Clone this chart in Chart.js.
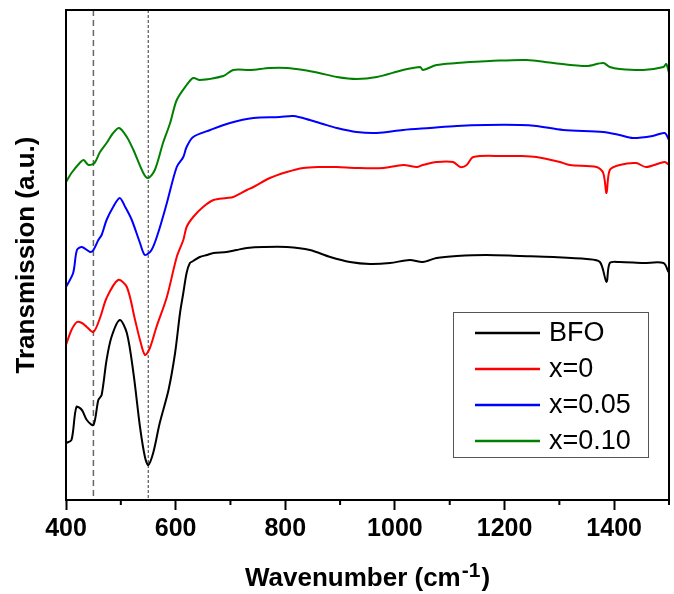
<!DOCTYPE html>
<html>
<head>
<meta charset="utf-8">
<script src="https://cdn.jsdelivr.net/npm/chart.js@4.4.0/dist/chart.umd.min.js"></script>
<style>
  html, body { margin: 0; padding: 0; background: #fff; }
  #wrap { width: 674px; height: 594px; }
</style>
</head>
<body>
<div id="wrap"><canvas id="ftirChart"></canvas></div>
<script>
// Wavenumber (cm-1) / transmission (a.u., offset curves)
const bfoX = [400, 410, 419, 429, 438, 450, 459, 465, 474, 483, 498, 511, 523, 535, 544, 550, 559, 571, 587, 599, 608, 614, 620, 626, 632, 644, 657, 669, 693, 711, 730, 760, 803, 845, 882, 918, 955, 991, 1027, 1051, 1076, 1113, 1167, 1228, 1289, 1350, 1374, 1386, 1392, 1410, 1453, 1490, 1499];
const bfoY = [57, 60, 93, 90, 80, 75, 100, 105, 140, 163, 180, 167, 127, 73, 43, 35, 47, 77, 110, 147, 187, 207, 227, 237, 239, 243, 245, 247, 248, 250, 252, 253, 253, 250, 243, 238, 236, 237, 240, 238, 242, 244, 245, 244, 243, 241, 238, 218, 237, 238, 237, 237, 228];

const x0X = [400, 410, 420, 429, 438, 450, 462, 474, 495, 511, 526, 535, 544, 553, 565, 584, 602, 614, 620, 632, 650, 669, 693, 705, 730, 742, 772, 803, 833, 862, 894, 930, 979, 1015, 1040, 1051, 1076, 1106, 1119, 1131, 1143, 1198, 1228, 1258, 1301, 1319, 1368, 1380, 1386, 1392, 1410, 1440, 1458, 1492, 1500];
const x0Y = [155, 170, 178, 177, 173, 168, 182, 202, 220, 213, 180, 160, 145, 152, 173, 203, 243, 260, 273, 283, 293, 300, 302, 303, 310, 313, 322, 328, 332, 333, 333, 332, 332, 335, 333, 335, 338, 338, 333, 335, 343, 344, 344, 343, 338, 335, 333, 327, 307, 330, 335, 337, 333, 338, 335];

const x005X = [400, 413, 420, 429, 444, 450, 459, 465, 474, 486, 498, 508, 520, 535, 544, 556, 568, 584, 602, 614, 620, 632, 663, 699, 742, 790, 815, 845, 869, 894, 930, 967, 1015, 1064, 1113, 1167, 1228, 1258, 1307, 1380, 1410, 1434, 1470, 1492, 1500];
const x005Y = [213, 227, 250, 253, 248, 250, 260, 265, 280, 293, 302, 293, 280, 257, 245, 250, 267, 297, 333, 343, 353, 363, 370, 377, 382, 383, 384, 380, 376, 372, 368, 367, 370, 372, 374, 375, 375, 374, 370, 368, 365, 362, 364, 367, 360];

const x010X = [400, 410, 425, 432, 441, 452, 462, 474, 486, 497, 511, 523, 541, 550, 562, 577, 590, 602, 620, 632, 644, 687, 705, 736, 772, 803, 833, 862, 894, 930, 967, 1015, 1046, 1051, 1076, 1113, 1137, 1173, 1240, 1289, 1350, 1380, 1392, 1410, 1453, 1490, 1495, 1500];
const x010Y = [318, 327, 337, 340, 335, 337, 348, 357, 367, 372, 363, 350, 327, 322, 330, 357, 377, 400, 415, 422, 420, 424, 430, 430, 432, 432, 430, 427, 423, 421, 423, 430, 433, 430, 435, 437, 438, 439, 440, 437, 434, 437, 433, 431, 430, 433, 436, 427];

const seriesLabels = ["BFO", "x=0", "x=0.05", "x=0.10"];
const seriesColors = ["#000000", "#ff0000", "#0000ff", "#008000"];
const refLines = [450, 550];
const majorTicks = [400, 600, 800, 1000, 1200, 1400];
const minorTicks = [500, 700, 900, 1100, 1300, 1500];

const FONT = "'Liberation Sans', Arial, sans-serif";

function toPoints(xs, ys) {
  return xs.map((x, i) => ({ x: x, y: ys[i] }));
}

// frame, minor ticks, dashed guides, legend box and the x title with superscript
const decorPlugin = {
  id: "decor",
  beforeDatasetsDraw(chart) {
    const { ctx, chartArea: a, scales: { x } } = chart;
    ctx.save();
    ctx.lineWidth = 1.5;
    ctx.strokeStyle = "#666";
    ctx.setLineDash([6, 4]);
    let px = x.getPixelForValue(refLines[0]);
    ctx.beginPath(); ctx.moveTo(px, a.top); ctx.lineTo(px, a.bottom); ctx.stroke();
    ctx.lineWidth = 1;
    ctx.strokeStyle = "#333";
    ctx.setLineDash([3, 2]);
    px = x.getPixelForValue(refLines[1]);
    ctx.beginPath(); ctx.moveTo(px, a.top); ctx.lineTo(px, a.bottom); ctx.stroke();
    ctx.restore();
  },
  afterDraw(chart) {
    const { ctx, chartArea: a, scales: { x } } = chart;
    ctx.save();
    ctx.strokeStyle = "#000";
    ctx.lineWidth = 2;
    ctx.strokeRect(a.left, a.top, a.right - a.left, a.bottom - a.top);

    // minor ticks
    minorTicks.forEach((v) => {
      const px = x.getPixelForValue(v);
      ctx.beginPath(); ctx.moveTo(px, a.bottom); ctx.lineTo(px, a.bottom + 5); ctx.stroke();
    });

    // legend
    ctx.lineWidth = 1;
    ctx.strokeStyle = "#555";
    ctx.strokeRect(453.5, 312.5, 195, 145);
    ctx.font = "27px " + FONT;
    ctx.textBaseline = "middle";
    ctx.textAlign = "left";
    chart.data.datasets.forEach((ds, i) => {
      const y = 333 + i * 36;
      ctx.strokeStyle = ds.borderColor;
      ctx.lineWidth = 2.5;
      ctx.beginPath(); ctx.moveTo(475, y); ctx.lineTo(540, y); ctx.stroke();
      ctx.fillStyle = "#000";
      ctx.fillText(ds.label, 549, y + 1);
    });

    // x title: Wavenumber (cm^-1)
    const main = "Wavenumber (cm";
    const sup = "-1";
    const close = ")";
    ctx.fillStyle = "#000";
    ctx.textBaseline = "alphabetic";
    ctx.font = "bold 26px " + FONT;
    const w1 = ctx.measureText(main).width;
    const w3 = ctx.measureText(close).width;
    ctx.font = "bold 21px " + FONT;
    const w2 = ctx.measureText(sup).width;
    let sx = (a.left + a.right) / 2 - (w1 + w2 + w3 + 2) / 2;
    ctx.font = "bold 26px " + FONT;
    ctx.fillText(main, sx, 586);
    ctx.font = "bold 21px " + FONT;
    ctx.fillText(sup, sx + w1 + 1, 577);
    ctx.font = "bold 26px " + FONT;
    ctx.fillText(close, sx + w1 + w2 + 2, 586);
    ctx.restore();
  }
};

const datasets = [
  [bfoX, bfoY], [x0X, x0Y], [x005X, x005Y], [x010X, x010Y]
].map((s, i) => ({
  label: seriesLabels[i],
  data: toPoints(s[0], s[1]),
  borderColor: seriesColors[i],
  borderWidth: 2,
  pointRadius: 0,
  tension: 0.3,
  fill: false
}));

new Chart(document.getElementById("ftirChart").getContext("2d"), {
  type: "line",
  data: { datasets: datasets },
  options: {
    responsive: true,
    maintainAspectRatio: false,
    animation: false,
    layout: { padding: { top: 10, right: 5, left: 0, bottom: 0 } },
    plugins: {
      legend: { display: false },
      tooltip: { enabled: false }
    },
    scales: {
      x: {
        type: "linear",
        min: 400,
        max: 1500,
        afterBuildTicks: (s) => { s.ticks = majorTicks.map((v) => ({ value: v })); },
        afterFit: (s) => { s.height = 94; },
        grid: {
          display: true,
          drawOnChartArea: false,
          drawTicks: true,
          tickLength: 10,
          tickWidth: 2,
          tickColor: "#000"
        },
        border: { display: false },
        ticks: {
          padding: 4,
          color: "#000",
          maxRotation: 0,
          callback: (v) => String(v),
          font: { family: FONT, size: 25, weight: "bold" }
        }
      },
      y: {
        min: 0,
        max: 490,
        afterFit: (s) => { s.width = 66; },
        grid: { display: false },
        border: { display: false },
        ticks: { display: false },
        title: {
          display: true,
          text: "Transmission (a.u.)",
          color: "#000",
          padding: { top: 11, bottom: 0 },
          font: { family: FONT, size: 26, weight: "bold" }
        }
      }
    }
  },
  plugins: [decorPlugin]
});
</script>
</body>
</html>
